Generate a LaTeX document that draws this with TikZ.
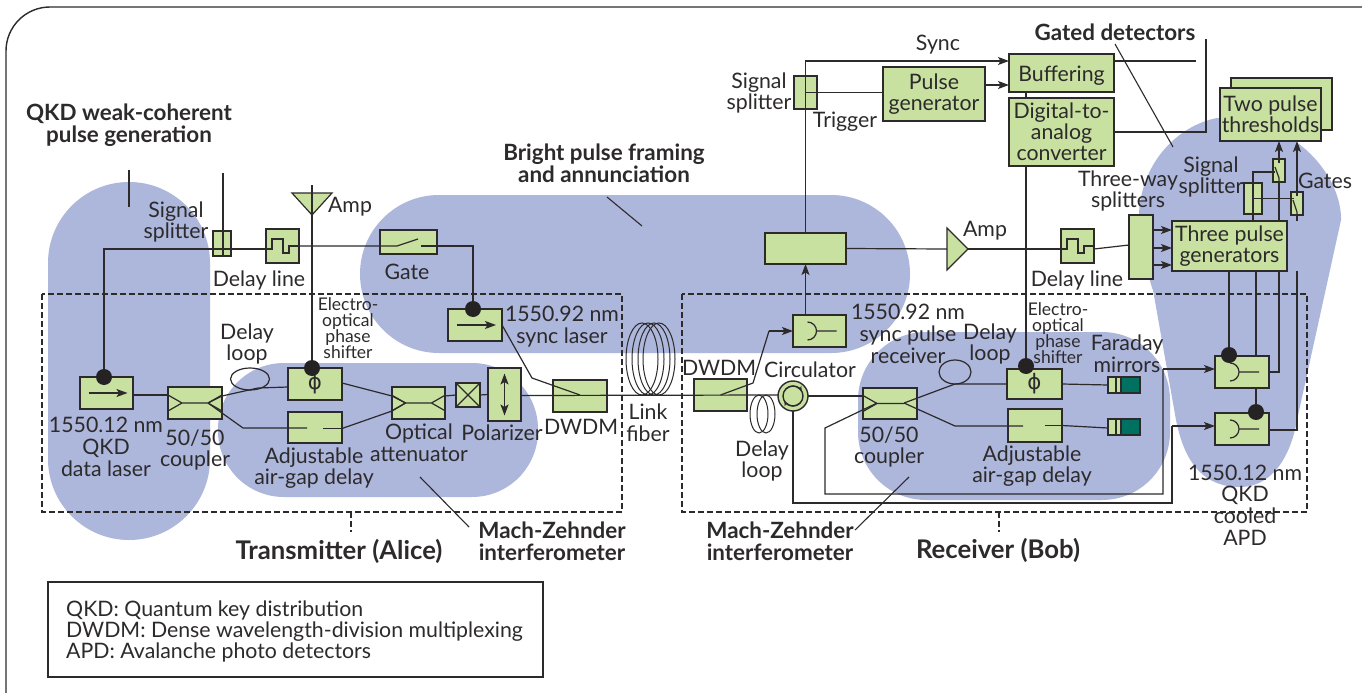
\documentclass[tikz,border=0pt]{standalone}
\usepackage{fontspec}
\setmainfont{Lato}
\newfontfamily\phifont{DejaVu Sans}
\usepackage{tikz}
\usetikzlibrary{calc}
\usetikzlibrary{arrows.meta}
\definecolor{blobc}{RGB}{173,182,219}
\definecolor{greenc}{RGB}{200,224,160}
\definecolor{tealc}{RGB}{0,112,96}
\definecolor{inkc}{RGB}{45,42,44}
\newcommand{\delaywave}[1]{\draw[wire] (#1.center) ++(-16.5,3) -- ++(6,0) -- ++(0,-10) -- ++(11,0) -- ++(0,14) -- ++(6,0) -- ++(0,-7) -- ++(10,0);}
\newcommand{\couplerfull}[1]{\draw[wire] (#1.center) ++(-27,-8) -- ++(14,8) -- ++(-14,8) (#1.center) ++(-13,0) -- ++(26,0) (#1.center) ++(27,-8) -- ++(-14,8) -- ++(14,8);}
\newcommand{\laserarrow}[1]{\draw[wire,->] (#1.center) ++(-18,0) -- ++(39,0);}
\newcommand{\detectorsym}[1]{\draw[wire] (#1.center) ++(-12,-9) arc[start angle=-90,end angle=90,radius=9] (#1.center) ++(-3,0) -- ++(20,0);}
\begin{document}
\begin{tikzpicture}[x=1pt,y=-1pt,>={Stealth[length=11pt,width=8pt,inset=2.5pt]},
    wire/.style={draw=inkc,line width=1.2pt},
    gbox/.style 2 args={draw=inkc,fill=greenc,line width=1.4pt,minimum width=#1pt,minimum height=#2pt,inner sep=0pt,outer sep=0pt,align=center,text=inkc,font=\fontsize{21.3}{21}\selectfont},
    dot/.style={circle,fill=inkc!80!black,minimum size=16pt,inner sep=0pt},
    lbl/.style={align=center,inner sep=0pt,text=inkc,font=\fontsize{21.3}{21.8}\selectfont},
    lblsm/.style={align=center,inner sep=0pt,text=inkc,font=\fontsize{17.5}{16}\selectfont},
    lblb/.style={align=center,inner sep=0pt,text=inkc,font=\fontsize{22.4}{21.8}\selectfont\bfseries},
    lblbig/.style={align=center,inner sep=0pt,text=inkc,font=\fontsize{25.7}{24}\selectfont\bfseries},
    boundary/.style={draw=inkc,line width=1.2pt,dash pattern=on 6pt off 3pt}]
\useasboundingbox (0,0) rectangle (1362,693);
\fill[white] (0,0) rectangle (1362,693);
\draw[inkc,line width=1.4pt,rounded corners=44pt] (6,693) -- (6,7) -- (1362,7);
\fill[blobc,rounded corners=81pt] (48,182) rectangle (210,540);
\fill[blobc,rounded corners=66pt] (218,363) rectangle (538,497);
\fill[blobc,rounded corners=79pt] (360,195) rectangle (910,353);
\fill[blobc,rounded corners=68pt] (858,332) rectangle (1170,500);
\fill[blobc] (1217,118) .. controls (1180,125) and (1142,160) .. (1139,213) .. controls (1140,240) and (1150,285) .. (1153,290) -- (1176,420) .. controls (1185,465) and (1205,487) .. (1240,487) .. controls (1270,487) and (1290,460) .. (1297,420) -- (1341,220) .. controls (1342,180) and (1300,118) .. (1217,118) -- cycle;
\draw[boundary] (42,294) rectangle (622,512);
\draw[boundary] (682,294) rectangle (1307,512);
\draw[boundary] (351,512) -- (351,532);
\draw[boundary] (999,512) -- (999,532);
\node[gbox={53}{32}] (datalaser) at (106.5,393) {};
\node[gbox={54}{32}] (coupA) at (195,403) {};
\node[gbox={18}{25}] (splitA) at (222,243.5) {};
\node[gbox={33}{34}] (delayA) at (282.5,246) {};
\node[gbox={57}{24}] (gate) at (408.5,242) {};
\node[gbox={54}{32}] (phiA) at (315,384) {\phifont ϕ};
\node[gbox={54}{31}] (gapA) at (315,427.5) {};
\node[gbox={53}{32}] (coupB) at (418.5,403) {};
\node[gbox={24}{24}] (xbox) at (468,395) {};
\node[gbox={33}{53}] (polar) at (504.5,394.5) {};
\node[gbox={54}{32}] (dwdmA) at (580,396) {};
\node[gbox={54}{32}] (synclaser) at (475,325) {};
\node[gbox={53}{32}] (dwdmB) at (720.5,395) {};
\node[gbox={30}{30},circle] (circ) at (793,396) {};
\node[gbox={54}{31}] (coupC) at (890,403.5) {};
\node[gbox={53}{32}] (recvS) at (819.5,331) {};
\node[gbox={81}{31}] (frameblock) at (805.5,248.5) {};
\node[gbox={23}{33}] (splitS) at (805.5,92.5) {};
\node[gbox={102}{54}] (pulsegen) at (934,94) {Pulse\\generator};
\node[gbox={105}{38},text height=20pt] (buffer) at (1061.5,73) {Buffering};
\node[gbox={105}{68}] (dac) at (1061.5,132) {Digital-to-\\analog\\converter};
\node[gbox={33}{34}] (delayB) at (1077.5,246) {};
\node[gbox={24}{64}] (split3) at (1141,247) {};
\node[gbox={115}{50}] (gen3) at (1229.5,246) {Three pulse\\generators};
\node[gbox={101}{52}] (thrBack) at (1281.5,104) {};
\node[gbox={101}{53}] (thrFront) at (1270.5,114.5) {Two pulse\\thresholds};
\node[gbox={18}{31}] (splitG) at (1253,198.5) {};
\node[gbox={12}{23}] (gateU) at (1279,170.5) {};
\node[gbox={12}{23}] (gateL) at (1297,203.5) {};
\node[gbox={54}{32}] (apdU) at (1242,372) {};
\node[gbox={54}{32}] (apdL) at (1242,429) {};
\node[gbox={55}{30}] (phiB) at (1034.5,384) {\phifont ϕ};
\node[gbox={54}{33}] (gapB) at (1035,425.5) {};
\node[gbox={13}{16}] (mirrorU) at (1114.5,385) {};
\node[gbox={19}{16},fill=tealc] (tealU) at (1130.5,385) {};
\node[gbox={13}{16}] (mirrorL) at (1114.5,427) {};
\node[gbox={19}{16},fill=tealc] (tealL) at (1130.5,427) {};
\node[dot] (dotL) at (104,377) {};
\node[dot] (dotPA) at (312,368) {};
\node[dot] (dotS) at (473,309) {};
\node[dot] (dotPB) at (1026,366) {};
\node[dot] (dotU) at (1229,355) {};
\node[dot] (dotD) at (1256,412) {};
\draw[wire,fill=greenc] (292,193) -- (332,193) -- (312,215) -- cycle;
\draw[wire,fill=greenc] (947,228) -- (947,270) -- (968,249) -- cycle;
\coordinate (ampAtip) at (312,215);
\coordinate (ampAtop) at (312,185);
\coordinate (ampBtip) at (968,249);
\coordinate (ampBback) at (947,249);
\coordinate (splitAtop) at (223,173);
\coordinate (bendSyncIn) at (532,378);
\coordinate (bendSyncOut) at (580,395);
\coordinate (bendRecv) at (753,383);
\coordinate (bendRecvB) at (769,331);
\coordinate (ptrQKD) at (129,170);
\coordinate (ptrQKDe) at (129,207);
\delaywave{delayA}
\delaywave{delayB}
\couplerfull{coupA}
\couplerfull{coupB}
\laserarrow{datalaser}
\laserarrow{synclaser}
\detectorsym{recvS}
\detectorsym{apdU}
\detectorsym{apdL}
\draw[wire] (coupC.center) ++(-27,-8) -- ++(14,8) -- ++(-14,8) (coupC.center) ++(-13,0) -- ++(27,0);
\draw[wire] (dotL) |- ([yshift=-3pt]delayA.west);
\draw[wire] (splitAtop) -- (splitAtop |- splitA.south);
\draw[wire] (delayA.east) -- ([yshift=-4pt]gate.west) -- ++(17,0) -- ++(21,-7);
\draw[wire] ([yshift=-4pt]gate.east) ++(-16,0) -| (dotS);
\draw[wire] ([yshift=-2pt]datalaser.east) -- ++(35,0);
\draw[wire] (coupA.center) ++(13,0) -- ++(14,-7) -- (258,388) -- ([yshift=-3pt]phiA.west);
\draw[wire] (coupA.center) ++(13,0) -- (243,428) -- ++(64,0);
\draw[wire] ([yshift=-1pt]gapA.east) -- ++(-19,0);
\draw[wire] (250,379) ellipse[x radius=19.5,y radius=11];
\draw[wire] (ampAtop) -- (ampAtip) -- (dotPA);
\draw[wire] ([yshift=1pt]phiA.east) -- (392,396) -- (405.5,403);
\draw[wire] ([yshift=-1pt]gapA.east) -- (392,411) -- (405.5,403);
\draw[wire] (coupB.east) ++(0,-7) -- (xbox.west);
\draw[wire] (xbox.north west) -- (xbox.south east) (xbox.north east) -- (xbox.south west);
\draw[wire] (xbox.east) -- (polar.west);
\draw[wire,<->] (polar.center) ++(0,-21) -- ++(0,42);
\draw[wire] (polar.east) ++(0,1) -- (bendSyncOut -| circ.west);
\draw[wire] (circ.east) -- ++(55,0);
\draw[wire] (synclaser.east) -- (bendSyncIn) -- (bendSyncOut);
\draw[wire] (bendSyncOut -| dwdmB.center) -- (bendRecv) -- (bendRecvB);
\draw[wire,->] (bendRecvB) -- (recvS.west);
\foreach \cx in {642,648,654,659}
    \draw[inkc,line width=1pt] (\cx,359) ellipse[x radius=16,y radius=36];
\draw[inkc,line width=1pt] (759,414) ellipse[x radius=9,y radius=19];
\draw[inkc,line width=1pt] (766,414) ellipse[x radius=9,y radius=19];
\draw[inkc,line width=1.4pt] (circ.center) circle[radius=10];
\draw[wire,->,>={Stealth[length=5pt,width=4.5pt]}] (circ.center) ++(-7,-7) arc[start angle=-135,end angle=-30,radius=10];
\draw[wire,->,>={Stealth[length=5pt,width=4.5pt]}] (circ.center) ++(7,7) arc[start angle=45,end angle=150,radius=10];
\draw[wire] (circ.south) -- (793,503) -| (1172,426);
\draw[wire,->] (1172,426) -- ([yshift=3pt]apdL.west);
\draw[wire] (877,403) -- (825,428) |- (1163,494) -- (1163,369);
\draw[wire,->] (1163,369) -- ([yshift=3pt]apdU.west);
\draw[wire] (904,403) -- (955,384) -- (phiB.west);
\draw[wire] (904,403) -- (955,426) -- ++(68,0);
\draw[wire] (gapB.east) -- ++(-17,0);
\draw[wire] (955,372) ellipse[x radius=16,y radius=12];
\draw[wire] (phiB.east) -- (mirrorU.west);
\draw[wire] (gapB.east) -- ([yshift=-1pt]mirrorL.west);
\draw[wire] (mirrorU.center) ++(1.5,-8) -- ++(0,16);
\draw[wire] (mirrorL.center) ++(1.5,-8) -- ++(0,16);
\draw[wire,->] (recvS.north -| frameblock) -- (frameblock.south);
\draw[wire,->] (frameblock.north) |- ([yshift=12pt]buffer.west);
\draw[wire] (splitS.center) -- (pulsegen.west |- splitS.center);
\draw[wire,->] ([yshift=9pt]pulsegen.east) -- ++(24,0);
\draw[wire] (frameblock.east) -- (ampBback);
\draw[wire] (ampBtip) -- ([yshift=-3pt]delayB.west);
\draw[wire] (delayB.east) ++(0,3) -- ([yshift=2pt]split3.west);
\draw[wire,->] (split3.east) ++(0,-17) -- ++(19,0);
\draw[wire,->] (split3.east) ++(0,1) -- ++(19,0);
\draw[wire,->] (split3.east) ++(0,18) -- ++(19,0);
\draw[wire] (buffer.south -| dotPB) -- (dac.north -| dotPB);
\draw[wire] (dac.south -| dotPB) -- (dotPB);
\draw[wire] ([yshift=12pt]buffer.east) -- (1196,61);
\draw[wire] (dac.east) -- (1206,132) -- (1206,39);
\draw[wire] (gen3.south -| dotU) -- (dotU);
\draw[wire] (gen3.south -| dotD) -- (apdU.north -| dotD);
\draw[wire] (apdU.south -| dotD) -- (dotD);
\draw[wire] (gateU.south) -- (gen3.north -| gateU);
\draw[wire] (gateL.south) -- (gen3.north -| gateL);
\draw[wire] (gen3.south -| gateU) |- (apdU.east);
\draw[wire] (gen3.south -| gateL) |- ([yshift=-1pt]apdL.east);
\draw[wire] (gateU.south) -- ++(0,-4) -- ++(-4,-11);
\draw[wire,->] (gateU.north) ++(0,4) -- (thrFront.south -| gateU);
\draw[wire] (gateL.south) -- ++(0,-3) -- ++(-4,-12);
\draw[wire,->] (gateL.north) ++(0,4) -- (thrFront.south -| gateL);
\draw[wire] (gen3.north -| splitG) -- (1253,172) -- ++(22,0);
\draw[wire] (splitG.center) -- ++(41,0);
\draw[wire] (ptrQKD) -- (ptrQKDe);
\draw[wire,line width=1.1pt] (607,197) -- (642,226);
\draw[wire,line width=1.1pt] (420,477) -- (469,527);
\draw[wire,line width=1.1pt] (909,477) -- (855,530);
\draw[wire,line width=1.1pt] (1115,44) -- (1173,147);
\node[lblb] (tQKD) at (129,125) {QKD weak-coherent\\pulse generation};
\node[lblb] (tBright) at (604,163) {Bright pulse framing\\and annunciation};
\node[lblb] (tGated) at (1115,32) {Gated detectors};
\node[lblb] (tMZA) at (552,541) {Mach-Zehnder\\interferometer};
\node[lblb] (tMZB) at (780,541) {Mach-Zehnder\\interferometer};
\node[lblbig] (tAlice) at (339,551) {Transmitter (Alice)};
\node[lblbig] (tBob) at (998,550) {Receiver (Bob)};
\node[lbl] (tSplitA) at (176,222) {Signal\\splitter};
\node[lbl] (tDelayA) at (259,280) {Delay line};
\node[lbl] (tAmpA) at (350,207) {Amp};
\node[lbl] (tGate) at (407,272) {Gate};
\node[lblsm] (tEOA) at (348,328) {Electro-\\optical\\phase\\shifter};
\node[lbl] (tLoopA) at (247,344) {Delay\\loop};
\node[lbl] (tLaserA) at (106,447) {1550.12 nm\\QKD\\data laser};
\node[lbl] (tCoupA) at (195,450) {50/50\\coupler};
\node[lbl] (tGapA) at (314,468) {Adjustable\\air-gap delay};
\node[lbl] (tAtten) at (419,443) {Optical\\attenuator};
\node[lbl] (tPolar) at (502,433) {Polarizer};
\node[lbl] (tDwdmA) at (581,427) {DWDM};
\node[lbl] (tLink) at (648,423) {Link\\fiber};
\node[lbl] (tSyncL) at (562,327) {1550.92 nm\\sync laser};
\node[lbl] (tDwdmB) at (719,368) {DWDM};
\node[lbl] (tCirc) at (810,370) {Circulator};
\node[lbl] (tLoopB) at (762,461) {Delay\\loop};
\node[lbl] (tRecv) at (908,334) {1550.92 nm\\sync pulse\\receiver};
\node[lbl] (tLoopC) at (990,344) {Delay\\loop};
\node[lblsm] (tEOB) at (1058,333) {Electro-\\optical\\phase\\shifter};
\node[lbl] (tFaraday) at (1127,354) {Faraday\\mirrors};
\node[lbl] (tCoupC) at (889,447) {50/50\\coupler};
\node[lbl] (tGapB) at (1032,466) {Adjustable\\air-gap delay};
\node[lbl] (tAPD) at (1245,505) {1550.12 nm\\QKD\\cooled\\APD};
\node[lbl] (tSync) at (938,45) {Sync};
\node[lbl] (tSplitS) at (759,93) {Signal\\splitter};
\node[lbl] (tTrigger) at (845,122) {Trigger};
\node[lbl] (tSplitG) at (1211,177) {Signal\\splitter};
\node[lbl] (tThree) at (1128,191) {Three-way\\splitters};
\node[lbl] (tGates) at (1325,181) {Gates};
\node[lbl] (tDelayB) at (1077,280) {Delay line};
\node[lbl] (tAmpB) at (985,231) {Amp};
\node[draw=inkc,line width=1.2pt,minimum width=495pt,minimum height=95pt,inner sep=0pt] (legendbox) at (295.5,629.5) {};
\node[lbl,align=left,anchor=west,font=\fontsize{21.3}{21}\selectfont] (tLegend) at (66,631) {QKD: Quantum key distribution\\DWDM: Dense wavelength-division multiplexing\\APD: Avalanche photo detectors};
\end{tikzpicture}
\end{document}
